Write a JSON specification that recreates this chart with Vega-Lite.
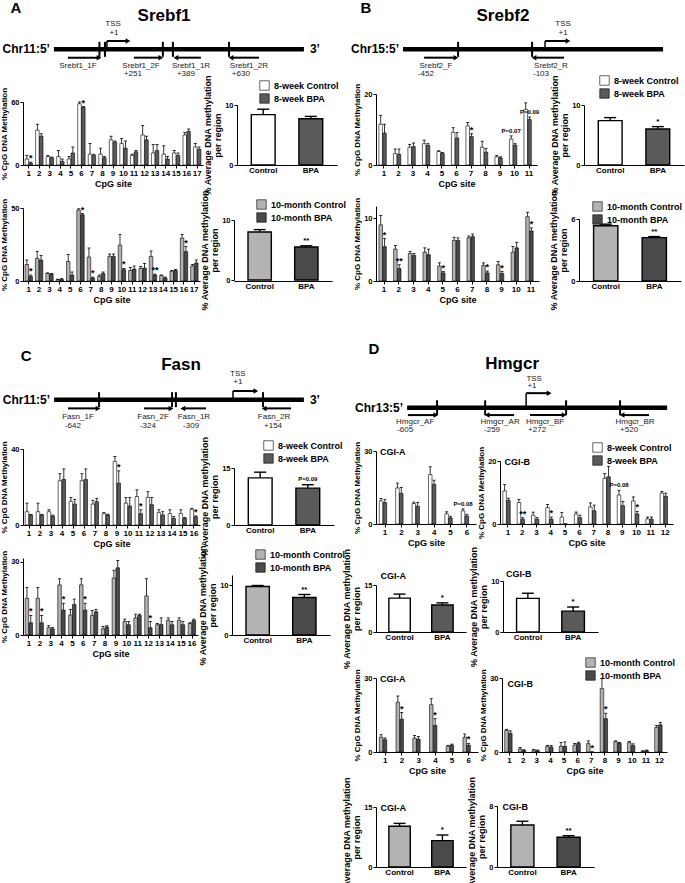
{
"$schema": "https://vega.github.io/schema/vega-lite/v6.json",
"background": "white",
"padding": 0,
"config": {
 "view": {"stroke": null},
 "font": "Liberation Sans",
 "mark": {"color": "#000"},
 "axis": {"labelFont": "Liberation Sans", "labelFontWeight": "bold", "labelFontSize": 7.5, "labelColor": "#000", "titleFont": "Liberation Sans", "titleFontWeight": "bold", "titleFontSize": 8, "titleColor": "#000", "titleLineHeight": 10, "domainColor": "#000", "tickColor": "#000", "grid": false, "tickSize": 3, "labelPadding": 1, "titlePadding": 2, "labelFlush": false, "labelOverlap": false},
 "axisX": {"labelAngle": 0, "labelFontSize": 8},
 "legend": {"labelFont": "Liberation Sans", "labelFontWeight": "bold", "labelFontSize": 9, "labelColor": "#000", "symbolType": "square", "symbolSize": 90, "symbolStrokeColor": "#000", "symbolStrokeWidth": 1.2, "rowPadding": 0, "labelOffset": 4, "symbolOpacity": 1},
 "bar": {"stroke": "#000", "strokeWidth": 0.6},
 "rule": {"color": "#000", "strokeWidth": 0.8},
 "tick": {"color": "#000", "fill": "#000", "thickness": 0.8, "opacity": 1},
 "text": {"font": "Liberation Sans", "fontWeight": "bold", "fontSize": 9, "color": "#000", "fill": "#000"},
 "title": {"font": "Liberation Sans", "fontWeight": "bold", "fontSize": 9, "color": "#000"}
},
"datasets": {
 "gA": [
  {"k":"line","x":-259,"x2":1010,"lane":"line"},
  {"k":"tick","x":-28,"lane":"line"},{"k":"tick","x":0,"lane":"line"},{"k":"tick","x":294,"lane":"line"},{"k":"tick","x":345,"lane":"line"},{"k":"tick","x":630,"lane":"line"},
  {"k":"arr","x":-188,"x2":-30,"tip":-30,"dir":"R","lane":"primer"},
  {"k":"arr","x":147,"x2":284,"tip":284,"dir":"R","lane":"primer"},
  {"k":"arr","x":360,"x2":487,"tip":360,"dir":"L","lane":"primer"},
  {"k":"arr","x":640,"x2":782,"tip":640,"dir":"L","lane":"primer"},
  {"k":"arr","x":10,"x2":117,"tip":117,"dir":"R","lane":"arrow"},
  {"k":"tssv","x":10,"lane":"line","lane2":"arrow"},
  {"k":"letter","x":-452,"lane":"letter","t":"A"},
  {"k":"gene","x":300,"lane":"gene","t":"Srebf1"},
  {"k":"chr","x":-259,"lane":"line","t":"Chr11:5’"},
  {"k":"three","x":1010,"lane":"line","t":"3’"},
  {"k":"s","x":41,"lane":"tss","t":"TSS"},{"k":"s","x":46,"lane":"plus","t":"+1"},
  {"k":"s","x":-137,"lane":"name","t":"Srebf1_1F"},
  {"k":"s","x":183,"lane":"name","t":"Srebf1_2F"},{"k":"s","x":142,"lane":"coord","t":"+251"},
  {"k":"s","x":437,"lane":"name","t":"Srebf1_1R"},{"k":"s","x":411,"lane":"coord","t":"+389"},
  {"k":"s","x":731,"lane":"name","t":"Srebf1_2R"},{"k":"s","x":690,"lane":"coord","t":"+630"}
 ],
 "gB": [
  {"k":"line","x":-526,"x2":437,"lane":"line"},
  {"k":"tick","x":-322,"lane":"line"},{"k":"tick","x":-48,"lane":"line"},
  {"k":"arr","x":-448,"x2":-330,"tip":-330,"dir":"R","lane":"primer"},
  {"k":"arr","x":-41,"x2":70,"tip":-41,"dir":"L","lane":"primer"},
  {"k":"arr","x":0,"x2":85,"tip":85,"dir":"R","lane":"arrow"},
  {"k":"tssv","x":0,"lane":"line","lane2":"arrow"},
  {"k":"letter","x":-663,"lane":"letter","t":"B"},
  {"k":"gene","x":-156,"lane":"gene","t":"Srebf2"},
  {"k":"chr","x":-526,"lane":"line","t":"Chr15:5’"},
  {"k":"s","x":67,"lane":"tss","t":"TSS"},{"k":"s","x":67,"lane":"plus","t":"+1"},
  {"k":"s","x":-404,"lane":"name","t":"Srebf2_F"},{"k":"s","x":-441,"lane":"coord","t":"-452"},
  {"k":"s","x":22,"lane":"name","t":"Srebf2_R"},{"k":"s","x":-15,"lane":"coord","t":"-103"}
 ],
 "gC": [
  {"k":"line","x":-696,"x2":276,"lane":"line"},
  {"k":"tick","x":-521,"lane":"line"},{"k":"tick","x":-237,"lane":"line"},{"k":"tick","x":-222,"lane":"line"},{"k":"tick","x":117,"lane":"line"},
  {"k":"arr","x":-642,"x2":-525,"tip":-525,"dir":"R","lane":"primer"},
  {"k":"arr","x":-346,"x2":-241,"tip":-241,"dir":"R","lane":"primer"},
  {"k":"arr","x":-195,"x2":-105,"tip":-195,"dir":"L","lane":"primer"},
  {"k":"arr","x":121,"x2":226,"tip":121,"dir":"L","lane":"primer"},
  {"k":"arr","x":0,"x2":89,"tip":89,"dir":"R","lane":"arrow"},
  {"k":"tssv","x":0,"lane":"line","lane2":"arrow"},
  {"k":"letter","x":-805,"lane":"letter","t":"C"},
  {"k":"gene","x":-202,"lane":"gene","t":"Fasn"},
  {"k":"chr","x":-696,"lane":"line","t":"Chr11:5’"},
  {"k":"three","x":276,"lane":"line","t":"3’"},
  {"k":"s","x":19,"lane":"tss","t":"TSS"},{"k":"s","x":19,"lane":"plus","t":"+1"},
  {"k":"s","x":-603,"lane":"name","t":"Fasn_1F"},{"k":"s","x":-623,"lane":"coord","t":"-642"},
  {"k":"s","x":-311,"lane":"name","t":"Fasn_2F"},{"k":"s","x":-331,"lane":"coord","t":"-324"},
  {"k":"s","x":-152,"lane":"name","t":"Fasn_1R"},{"k":"s","x":-163,"lane":"coord","t":"-309"},
  {"k":"s","x":160,"lane":"name","t":"Fasn_2R"},{"k":"s","x":156,"lane":"coord","t":"+154"}
 ],
 "gD": [
  {"k":"line","x":-604,"x2":716,"lane":"line"},
  {"k":"tick","x":-452,"lane":"line"},{"k":"tick","x":-208,"lane":"line"},{"k":"tick","x":203,"lane":"line"},{"k":"tick","x":477,"lane":"line"},
  {"k":"arr","x":-600,"x2":-458,"tip":-458,"dir":"R","lane":"primer"},
  {"k":"arr","x":-198,"x2":-61,"tip":-198,"dir":"L","lane":"primer"},
  {"k":"arr","x":20,"x2":193,"tip":193,"dir":"R","lane":"primer"},
  {"k":"arr","x":487,"x2":624,"tip":487,"dir":"L","lane":"primer"},
  {"k":"arr","x":0,"x2":117,"tip":117,"dir":"R","lane":"arrow"},
  {"k":"tssv","x":0,"lane":"line","lane2":"arrow"},
  {"k":"letter","x":-772,"lane":"letter","t":"D"},
  {"k":"gene","x":-71,"lane":"gene","t":"Hmgcr"},
  {"k":"chr","x":-604,"lane":"line","t":"Chr13:5’"},
  {"k":"s","x":41,"lane":"tss","t":"TSS"},{"k":"s","x":30,"lane":"plus","t":"+1"},
  {"k":"s","x":-563,"lane":"name","t":"Hmgcr_AF"},{"k":"s","x":-614,"lane":"coord","t":"-605"},
  {"k":"s","x":-132,"lane":"name","t":"Hmgcr_AR"},{"k":"s","x":-173,"lane":"coord","t":"-259"},
  {"k":"s","x":96,"lane":"name","t":"Hmgcr_BF"},{"k":"s","x":56,"lane":"coord","t":"+272"},
  {"k":"s","x":553,"lane":"name","t":"Hmgcr_BR"},{"k":"s","x":523,"lane":"coord","t":"+520"}
 ],
 "s1w": [{"site":1,"g":"Control","v":2.5,"top":4},{"site":1,"g":"BPA","v":0.8,"top":1.2,"sig":"*"},
  {"site":2,"g":"Control","v":14.5,"top":17},{"site":2,"g":"BPA","v":12,"top":13},
  {"site":3,"g":"Control","v":3.5,"top":4},{"site":3,"g":"BPA","v":3,"top":3.3},
  {"site":4,"g":"Control","v":3.5,"top":6},{"site":4,"g":"BPA","v":1.5,"top":2.5},
  {"site":5,"g":"Control","v":2.5,"top":3.5},{"site":5,"g":"BPA","v":5,"top":7.5},
  {"site":6,"g":"Control","v":55,"top":60},{"site":6,"g":"BPA","v":45,"top":47,"sig":"*"},
  {"site":7,"g":"Control","v":4.5,"top":9},{"site":7,"g":"BPA","v":4,"top":4.5},
  {"site":8,"g":"Control","v":4.5,"top":7},{"site":8,"g":"BPA","v":3,"top":3.5},
  {"site":9,"g":"Control","v":10.5,"top":12},{"site":9,"g":"BPA","v":9.5,"top":10},
  {"site":10,"g":"Control","v":9,"top":11},{"site":10,"g":"BPA","v":7,"top":10},
  {"site":11,"g":"Control","v":4,"top":4.5},{"site":11,"g":"BPA","v":5.5,"top":6},
  {"site":12,"g":"Control","v":12.5,"top":16.5},{"site":12,"g":"BPA","v":10.5,"top":12},
  {"site":13,"g":"Control","v":5,"top":8.5},{"site":13,"g":"BPA","v":6,"top":8.5},
  {"site":14,"g":"Control","v":4.5,"top":8},{"site":14,"g":"BPA","v":2.5,"top":3.5},
  {"site":15,"g":"Control","v":5,"top":6},{"site":15,"g":"BPA","v":4,"top":5},
  {"site":16,"g":"Control","v":12.5,"top":13.5},{"site":16,"g":"BPA","v":14,"top":15},
  {"site":17,"g":"Control","v":7.5,"top":9},{"site":17,"g":"BPA","v":6.5,"top":7.5}],
 "s1m": [{"site":1,"g":"Control","v":5.5,"top":7},{"site":1,"g":"BPA","v":1.5,"top":2,"sig":"*"},
  {"site":2,"g":"Control","v":7.5,"top":9.8},{"site":2,"g":"BPA","v":7,"top":8.5},
  {"site":3,"g":"Control","v":2.5,"top":2.7},{"site":3,"g":"BPA","v":2.3,"top":2.5},
  {"site":4,"g":"Control","v":0.5,"top":0.6},{"site":4,"g":"BPA","v":0.5,"top":0.8},
  {"site":5,"g":"Control","v":6.5,"top":8.8},{"site":5,"g":"BPA","v":2,"top":3},
  {"site":6,"g":"Control","v":45,"top":48},{"site":6,"g":"BPA","v":33,"top":36,"sig":"*"},
  {"site":7,"g":"Control","v":8,"top":11},{"site":7,"g":"BPA","v":1,"top":1.3,"sig":"*"},
  {"site":8,"g":"Control","v":1.5,"top":2},{"site":8,"g":"BPA","v":2.5,"top":3},
  {"site":9,"g":"Control","v":8.2,"top":9},{"site":9,"g":"BPA","v":8.2,"top":9},
  {"site":10,"g":"Control","v":12,"top":15.5},{"site":10,"g":"BPA","v":3.8,"top":4.2,"sig":"*"},
  {"site":11,"g":"Control","v":3.5,"top":4.5},{"site":11,"g":"BPA","v":4,"top":5},
  {"site":12,"g":"Control","v":4.2,"top":4.8},{"site":12,"g":"BPA","v":4.3,"top":5.8},
  {"site":13,"g":"Control","v":8.2,"top":10},{"site":13,"g":"BPA","v":2,"top":2.3,"sig":"**"},
  {"site":14,"g":"Control","v":1.8,"top":2},{"site":14,"g":"BPA","v":1,"top":1.3},
  {"site":15,"g":"Control","v":3.3,"top":3.5},{"site":15,"g":"BPA","v":3.5,"top":3.8},
  {"site":16,"g":"Control","v":14.3,"top":15.5},{"site":16,"g":"BPA","v":9.8,"top":11.5,"sig":"*"},
  {"site":17,"g":"Control","v":5,"top":5.5},{"site":17,"g":"BPA","v":6,"top":7}],
 "s1wa": [{"g":"Control","v":8.4,"top":9.3},{"g":"BPA","v":7.7,"top":8.1}],
 "s1ma": [{"g":"Control","v":8,"top":8.4},{"g":"BPA","v":5.5,"top":5.7,"sig":"**"}],
 "s2w": [{"site":1,"g":"Control","v":11.5,"top":14},{"site":1,"g":"BPA","v":9,"top":11.5},
  {"site":2,"g":"Control","v":3.2,"top":4.5},{"site":2,"g":"BPA","v":3,"top":4.5},
  {"site":3,"g":"Control","v":5,"top":5.8},{"site":3,"g":"BPA","v":5.2,"top":6.2},
  {"site":4,"g":"Control","v":6,"top":7},{"site":4,"g":"BPA","v":5.5,"top":6},
  {"site":5,"g":"Control","v":3.8,"top":4},{"site":5,"g":"BPA","v":3.2,"top":3.5},
  {"site":6,"g":"Control","v":9.2,"top":10.5},{"site":6,"g":"BPA","v":7.6,"top":9.2},
  {"site":7,"g":"Control","v":11,"top":12},{"site":7,"g":"BPA","v":8,"top":8.8,"sig":"*"},
  {"site":8,"g":"Control","v":5,"top":6.7},{"site":8,"g":"BPA","v":3.6,"top":4.7},
  {"site":9,"g":"Control","v":2.3,"top":2.7},{"site":9,"g":"BPA","v":2,"top":2.3},
  {"site":10,"g":"Control","v":7.3,"top":8.2,"lab":"P=0.07"},{"site":10,"g":"BPA","v":5.6,"top":6},
  {"site":11,"g":"Control","v":15.7,"top":17.5},{"site":11,"g":"BPA","v":12.8,"top":13.5,"lab":"P=0.09"}],
 "s2m": [{"site":1,"g":"Control","v":9,"top":10.5},{"site":1,"g":"BPA","v":5.5,"top":6.8,"sig":"*"},
  {"site":2,"g":"Control","v":5.1,"top":5.7},{"site":2,"g":"BPA","v":2,"top":2.6,"sig":"**"},
  {"site":3,"g":"Control","v":4.4,"top":4.7},{"site":3,"g":"BPA","v":4.1,"top":4.4},
  {"site":4,"g":"Control","v":4.6,"top":5.3},{"site":4,"g":"BPA","v":4.2,"top":5.1},
  {"site":5,"g":"Control","v":2.4,"top":2.9},{"site":5,"g":"BPA","v":1.3,"top":1.5,"sig":"*"},
  {"site":6,"g":"Control","v":6.5,"top":7},{"site":6,"g":"BPA","v":6.5,"top":6.9},
  {"site":7,"g":"Control","v":6.9,"top":7.2},{"site":7,"g":"BPA","v":7.1,"top":7.5},
  {"site":8,"g":"Control","v":2.5,"top":2.9},{"site":8,"g":"BPA","v":1.3,"top":1.6,"sig":"*"},
  {"site":9,"g":"Control","v":2.6,"top":3.1},{"site":9,"g":"BPA","v":1.2,"top":1.5,"sig":"*"},
  {"site":10,"g":"Control","v":4.6,"top":5.5},{"site":10,"g":"BPA","v":5.3,"top":6.2},
  {"site":11,"g":"Control","v":10.3,"top":11},{"site":11,"g":"BPA","v":8,"top":8.5,"sig":"*"}],
 "s2wa": [{"g":"Control","v":7.4,"top":7.9},{"g":"BPA","v":6,"top":6.4,"sig":"*"}],
 "s2ma": [{"g":"Control","v":5.35,"top":5.5},{"g":"BPA","v":4.2,"top":4.3,"sig":"**"}],
 "fw": [{"site":1,"g":"Control","v":7,"top":11.5},{"site":1,"g":"BPA","v":5.3,"top":5.6},
  {"site":2,"g":"Control","v":7,"top":11.5},{"site":2,"g":"BPA","v":5.3,"top":5.6},
  {"site":3,"g":"Control","v":7,"top":8},{"site":3,"g":"BPA","v":4.7,"top":5.2},
  {"site":4,"g":"Control","v":23.3,"top":27},{"site":4,"g":"BPA","v":24,"top":29.5},
  {"site":5,"g":"Control","v":12.5,"top":14.5},{"site":5,"g":"BPA","v":11,"top":13.5},
  {"site":6,"g":"Control","v":23.3,"top":27},{"site":6,"g":"BPA","v":24,"top":29.5},
  {"site":7,"g":"Control","v":11,"top":13},{"site":7,"g":"BPA","v":12.3,"top":14},
  {"site":8,"g":"Control","v":6,"top":6.5},{"site":8,"g":"BPA","v":5.3,"top":5.7},
  {"site":9,"g":"Control","v":33.5,"top":36},{"site":9,"g":"BPA","v":22,"top":28.5,"sig":"*"},
  {"site":10,"g":"Control","v":11.5,"top":14.5},{"site":10,"g":"BPA","v":10,"top":14.5},
  {"site":11,"g":"Control","v":15,"top":18.5},{"site":11,"g":"BPA","v":6,"top":8,"sig":"*"},
  {"site":12,"g":"Control","v":14.5,"top":17.5},{"site":12,"g":"BPA","v":10.7,"top":14.5},
  {"site":13,"g":"Control","v":6.5,"top":8},{"site":13,"g":"BPA","v":5.3,"top":7},
  {"site":14,"g":"Control","v":6,"top":8},{"site":14,"g":"BPA","v":3.5,"top":4.5},
  {"site":15,"g":"Control","v":6,"top":8},{"site":15,"g":"BPA","v":3.5,"top":4},
  {"site":16,"g":"Control","v":8.3,"top":8.8},{"site":16,"g":"BPA","v":4.3,"top":4.8,"sig":"*"}],
 "fm": [{"site":1,"g":"Control","v":15,"top":19.5},{"site":1,"g":"BPA","v":5,"top":8,"sig":"*"},
  {"site":2,"g":"Control","v":15,"top":19.5},{"site":2,"g":"BPA","v":5,"top":8,"sig":"*"},
  {"site":3,"g":"Control","v":3,"top":3.8},{"site":3,"g":"BPA","v":2.5,"top":3},
  {"site":4,"g":"Control","v":20.5,"top":23},{"site":4,"g":"BPA","v":10.2,"top":13,"sig":"*"},
  {"site":5,"g":"Control","v":8.2,"top":10.5},{"site":5,"g":"BPA","v":12.5,"top":14.7},
  {"site":6,"g":"Control","v":20.5,"top":23},{"site":6,"g":"BPA","v":10.2,"top":13,"sig":"*"},
  {"site":7,"g":"Control","v":8,"top":10},{"site":7,"g":"BPA","v":9.5,"top":10.5},
  {"site":8,"g":"Control","v":2.5,"top":3.5},{"site":8,"g":"BPA","v":3.3,"top":3.8},
  {"site":9,"g":"Control","v":23.3,"top":26.5},{"site":9,"g":"BPA","v":27.5,"top":30.5},
  {"site":10,"g":"Control","v":5.5,"top":6.5},{"site":10,"g":"BPA","v":4.2,"top":5.5},
  {"site":11,"g":"Control","v":7,"top":8.5},{"site":11,"g":"BPA","v":8,"top":8.5},
  {"site":12,"g":"Control","v":16,"top":23},{"site":12,"g":"BPA","v":3,"top":5.5,"sig":"*"},
  {"site":13,"g":"Control","v":4.2,"top":4.7},{"site":13,"g":"BPA","v":4.3,"top":7},
  {"site":14,"g":"Control","v":6,"top":7},{"site":14,"g":"BPA","v":4.2,"top":5.5},
  {"site":15,"g":"Control","v":6,"top":7},{"site":15,"g":"BPA","v":4.2,"top":5.5},
  {"site":16,"g":"Control","v":4.7,"top":5},{"site":16,"g":"BPA","v":6,"top":6.5}],
 "fwa": [{"g":"Control","v":12.4,"top":13.9},{"g":"BPA","v":9.7,"top":10.6,"lab":"P=0.09"}],
 "fma": [{"g":"Control","v":9.7,"top":9.9},{"g":"BPA","v":7.5,"top":8.1,"sig":"**"}],
 "hAw": [{"site":1,"g":"Control","v":9.5,"top":10.5},{"site":1,"g":"BPA","v":8.8,"top":10},
  {"site":2,"g":"Control","v":14.8,"top":16.8},{"site":2,"g":"BPA","v":12.6,"top":15},
  {"site":3,"g":"Control","v":8.4,"top":9},{"site":3,"g":"BPA","v":7.3,"top":8.8},
  {"site":4,"g":"Control","v":20.3,"top":23.5},{"site":4,"g":"BPA","v":16.3,"top":18},
  {"site":5,"g":"Control","v":4.2,"top":5},{"site":5,"g":"BPA","v":2.5,"top":3.2},
  {"site":6,"g":"Control","v":5.4,"top":6.2,"lab":"P=0.08"},{"site":6,"g":"BPA","v":3.3,"top":4}],
 "hBw": [{"site":1,"g":"Control","v":10.5,"top":12.5},{"site":1,"g":"BPA","v":7.5,"top":8.2},
  {"site":2,"g":"Control","v":6.8,"top":7.8},{"site":2,"g":"BPA","v":1.5,"top":2,"sig":"**"},
  {"site":3,"g":"Control","v":2.8,"top":3.8},{"site":3,"g":"BPA","v":1.5,"top":2},
  {"site":4,"g":"Control","v":5.2,"top":6.2},{"site":4,"g":"BPA","v":1.5,"top":2.2,"sig":"*"},
  {"site":5,"g":"Control","v":2.2,"top":3.7},{"site":5,"g":"BPA","v":0,"top":0},
  {"site":6,"g":"Control","v":3.2,"top":3.8},{"site":6,"g":"BPA","v":2,"top":2.8},
  {"site":7,"g":"Control","v":5.4,"top":6.7},{"site":7,"g":"BPA","v":4.2,"top":6},
  {"site":8,"g":"Control","v":14.5,"top":16},{"site":8,"g":"BPA","v":15,"top":18.3},
  {"site":9,"g":"Control","v":9.2,"top":10.7,"lab":"P=0.08"},{"site":9,"g":"BPA","v":5.8,"top":7.2},
  {"site":10,"g":"Control","v":7.3,"top":8.6},{"site":10,"g":"BPA","v":3.2,"top":4,"sig":"*"},
  {"site":11,"g":"Control","v":1.6,"top":2.2},{"site":11,"g":"BPA","v":1.5,"top":2.2},
  {"site":12,"g":"Control","v":9.8,"top":10.3},{"site":12,"g":"BPA","v":8.8,"top":9.8}],
 "hAwa": [{"g":"Control","v":10.8,"top":12.1},{"g":"BPA","v":8.6,"top":9.3,"sig":"*"}],
 "hBwa": [{"g":"Control","v":6.6,"top":7.6},{"g":"BPA","v":4.1,"top":4.9,"sig":"*"}],
 "hAm": [{"site":1,"g":"Control","v":6,"top":7},{"site":1,"g":"BPA","v":5,"top":5.7},
  {"site":2,"g":"Control","v":20.2,"top":22.7},{"site":2,"g":"BPA","v":13.3,"top":16,"sig":"*"},
  {"site":3,"g":"Control","v":5.6,"top":6.7},{"site":3,"g":"BPA","v":5.2,"top":6.3},
  {"site":4,"g":"Control","v":19.2,"top":21.6},{"site":4,"g":"BPA","v":10.8,"top":13.5,"sig":"*"},
  {"site":5,"g":"Control","v":2.4,"top":2.7},{"site":5,"g":"BPA","v":2.8,"top":3.2},
  {"site":6,"g":"Control","v":6,"top":7.3},{"site":6,"g":"BPA","v":2.8,"top":3.5,"sig":"*"}],
 "hBm": [{"site":1,"g":"Control","v":8.8,"top":9.2},{"site":1,"g":"BPA","v":7.6,"top":8.6},
  {"site":2,"g":"Control","v":1.2,"top":1.8},{"site":2,"g":"BPA","v":0.6,"top":0.9},
  {"site":3,"g":"Control","v":0.8,"top":1},{"site":3,"g":"BPA","v":0.5,"top":0.8},
  {"site":4,"g":"Control","v":2.2,"top":2.7},{"site":4,"g":"BPA","v":2,"top":2.6},
  {"site":5,"g":"Control","v":2.3,"top":3.8},{"site":5,"g":"BPA","v":2.3,"top":4.1},
  {"site":6,"g":"Control","v":2.8,"top":3.5},{"site":6,"g":"BPA","v":3.5,"top":4},
  {"site":7,"g":"Control","v":3.4,"top":4.5},{"site":7,"g":"BPA","v":0,"top":0,"sig":"*"},
  {"site":8,"g":"Control","v":25.7,"top":29.8},{"site":8,"g":"BPA","v":13.5,"top":15.7,"sig":"*"},
  {"site":9,"g":"Control","v":4.2,"top":4.5},{"site":9,"g":"BPA","v":3.6,"top":3.9},
  {"site":10,"g":"Control","v":3.8,"top":4.3},{"site":10,"g":"BPA","v":2.6,"top":3.3},
  {"site":11,"g":"Control","v":0.3,"top":0.5},{"site":11,"g":"BPA","v":0.5,"top":0.8},
  {"site":12,"g":"Control","v":10,"top":10.8},{"site":12,"g":"BPA","v":11,"top":12}],
 "hAma": [{"g":"Control","v":10.2,"top":10.9},{"g":"BPA","v":6.6,"top":8,"sig":"*"}],
 "hBma": [{"g":"Control","v":5.5,"top":6},{"g":"BPA","v":3.9,"top":4.1,"sig":"**"}]
},
"resolve": {"scale": {"fill": "independent", "shape": "independent"}, "legend": {"fill": "independent", "shape": "independent"}},
"spacing": -21,
"hconcat": [
 {
  "resolve": {"scale": {"fill": "independent", "shape": "independent"}, "legend": {"fill": "independent", "shape": "independent"}},
  "spacing": 38,
  "vconcat": [
   {
    "resolve": {"scale": {"fill": "independent", "shape": "independent"}, "legend": {"fill": "independent", "shape": "independent"}},
    "spacing": -7,
    "vconcat": [
     {
      "width": 340, "height": 80,
      "data": {"name": "gA"},
      "encoding": {
       "x": {"field": "x", "type": "quantitative", "scale": {"domain": [-416, 1310], "nice": false, "zero": false}, "axis": null},
       "y": {"field": "lane", "type": "ordinal", "scale": {"type": "point", "domain": ["letter","gene","tss","plus","arrow","line","primer","name","coord"], "padding": 0.8}, "axis": null}
      },
      "layer": [
       {"transform": [{"filter": "datum.k==='line'"}], "mark": {"type": "rule", "strokeWidth": 4.5, "color": "#000"}, "encoding": {"x2": {"field": "x2"}}},
       {"transform": [{"filter": "datum.k==='tick'"}], "mark": {"type": "tick", "orient": "vertical", "thickness": 2, "size": 15, "color": "#000"}},
       {"transform": [{"filter": "datum.k==='arr'"}], "mark": {"type": "rule", "strokeWidth": 2, "color": "#000"}, "encoding": {"x2": {"field": "x2"}}},
       {"transform": [{"filter": "datum.k==='arr'"}], "mark": {"type": "point", "filled": true, "size": 30, "color": "#000", "opacity": 1}, "encoding": {"x": {"field": "tip", "type": "quantitative"}, "shape": {"field": "dir", "type": "nominal", "scale": {"domain": ["R","L"], "range": ["triangle-right","triangle-left"]}, "legend": null}}},
       {"transform": [{"filter": "datum.k==='tssv'"}], "mark": {"type": "rule", "strokeWidth": 1.5, "color": "#000"}, "encoding": {"y2": {"field": "lane2"}}},
       {"transform": [{"filter": "datum.k==='letter'"}], "mark": {"type": "text", "fontSize": 15, "fontWeight": "bold"}, "encoding": {"text": {"field": "t"}}},
       {"transform": [{"filter": "datum.k==='gene'"}], "mark": {"type": "text", "fontSize": 17, "fontWeight": "bold"}, "encoding": {"text": {"field": "t"}}},
       {"transform": [{"filter": "datum.k==='chr'"}], "mark": {"type": "text", "fontSize": 12, "fontWeight": "bold", "align": "right", "dx": -4, "font": "Liberation Sans Narrow, Liberation Sans, sans-serif"}, "encoding": {"text": {"field": "t"}}},
       {"transform": [{"filter": "datum.k==='three'"}], "mark": {"type": "text", "fontSize": 12, "fontWeight": "bold", "align": "left", "dx": 6, "font": "Liberation Sans Narrow, Liberation Sans, sans-serif"}, "encoding": {"text": {"field": "t"}}},
       {"transform": [{"filter": "datum.k==='s'"}], "mark": {"type": "text", "fontSize": 8, "fontWeight": "normal", "color": "#222", "fill": "#222", "font": "Liberation Sans Narrow, Liberation Sans, sans-serif"}, "encoding": {"text": {"field": "t"}}}
      ]
     },
     {
      "resolve": {"scale": {"fill": "independent"}, "legend": {"fill": "independent"}},
      "spacing": 0,
      "hconcat": [
       {
        "width": 180, "height": 63,
        "data": {"name": "s1w"},
        "encoding": {
         "x": {"field": "site", "type": "ordinal", "scale": {"paddingInner": 0.3, "paddingOuter": 0.2}, "axis": {"title": "CpG site", "titleFontSize": 9}},
         "xOffset": {"field": "g", "type": "nominal", "sort": ["Control","BPA"], "scale": {"paddingInner": 0.08}}
        },
        "layer": [
         {"mark": "bar", "encoding": {"y": {"field": "v", "type": "quantitative", "scale": {"domain": [0,20,40,60], "range": [63,15,7,0], "nice": false, "zero": false}, "axis": {"values": [0,5,10,15,20,40,60], "title": "% CpG DNA Methylation"}}, "fill": {"field": "g", "type": "nominal", "scale": {"domain": ["Control","BPA"], "range": ["#ffffff","#5a5a5a"]}, "legend": null}}},
         {"mark": "rule", "encoding": {"y": {"field": "v", "type": "quantitative"}, "y2": {"field": "top"}}},
         {"mark": {"type": "tick", "orient": "horizontal"}, "encoding": {"y": {"field": "top", "type": "quantitative"}, "size": {"value": 3}}},
         {"transform": [{"filter": "datum.sig"}], "mark": {"type": "text", "dy": -4}, "encoding": {"y": {"field": "top", "type": "quantitative"}, "text": {"field": "sig"}}}
        ]
       },
       {
        "width": 100, "height": 63,
        "data": {"name": "s1wa"},
        "encoding": {"x": {"field": "g", "type": "nominal", "sort": ["Control","BPA"], "scale": {"paddingInner": 0.5, "paddingOuter": 0.3}, "axis": {"title": null, "ticks": false}}},
        "layer": [
         {"mark": {"type": "bar", "strokeWidth": 1.4}, "encoding": {"y": {"field": "v", "type": "quantitative", "scale": {"domain": [0,10], "range": [63,3], "nice": false}, "axis": {"values": [0,2,4,6,8,10], "title": ["% Average DNA methylation","per region"], "titleFontSize": 9}}, "fill": {"field": "g", "type": "nominal", "scale": {"domain": ["Control","BPA"], "range": ["#ffffff","#5a5a5a"]}, "legend": {"title": null, "orient": "none", "legendX": 22, "legendY": -22, "labelExpr": "'8-week ' + datum.label"}}}},
         {"mark": {"type": "rule", "strokeWidth": 1.4}, "encoding": {"y": {"field": "v", "type": "quantitative"}, "y2": {"field": "top"}}},
         {"mark": {"type": "tick", "orient": "horizontal", "thickness": 1.4}, "encoding": {"y": {"field": "top", "type": "quantitative"}, "size": {"value": 12}}},
         {"transform": [{"filter": "datum.sig"}], "mark": {"type": "text", "dy": -5, "fontSize": 8}, "encoding": {"y": {"field": "top", "type": "quantitative"}, "text": {"field": "sig"}}}
        ]
       }
      ]
     },
     {
      "resolve": {"scale": {"fill": "independent"}, "legend": {"fill": "independent"}},
      "spacing": 0,
      "hconcat": [
       {
        "width": 177, "height": 73,
        "data": {"name": "s1m"},
        "encoding": {
         "x": {"field": "site", "type": "ordinal", "scale": {"paddingInner": 0.3, "paddingOuter": 0.2}, "axis": {"title": "CpG site", "titleFontSize": 9}},
         "xOffset": {"field": "g", "type": "nominal", "sort": ["Control","BPA"], "scale": {"paddingInner": 0.08}}
        },
        "layer": [
         {"mark": "bar", "encoding": {"y": {"field": "v", "type": "quantitative", "scale": {"domain": [0,18,25,50], "range": [73,19,10,0], "nice": false, "zero": false}, "axis": {"values": [0,5,10,15,25,50], "title": "% CpG DNA Methylation"}}, "fill": {"field": "g", "type": "nominal", "scale": {"domain": ["Control","BPA"], "range": ["#b3b3b3","#4a4a4a"]}, "legend": null}}},
         {"mark": "rule", "encoding": {"y": {"field": "v", "type": "quantitative"}, "y2": {"field": "top"}}},
         {"mark": {"type": "tick", "orient": "horizontal"}, "encoding": {"y": {"field": "top", "type": "quantitative"}, "size": {"value": 3}}},
         {"transform": [{"filter": "datum.sig"}], "mark": {"type": "text", "dy": -4}, "encoding": {"y": {"field": "top", "type": "quantitative"}, "text": {"field": "sig"}}}
        ]
       },
       {
        "width": 98, "height": 73,
        "data": {"name": "s1ma"},
        "encoding": {"x": {"field": "g", "type": "nominal", "sort": ["Control","BPA"], "scale": {"paddingInner": 0.5, "paddingOuter": 0.3}, "axis": {"title": null, "ticks": false}}},
        "layer": [
         {"mark": {"type": "bar", "strokeWidth": 1.4}, "encoding": {"y": {"field": "v", "type": "quantitative", "scale": {"domain": [0,10], "range": [72,12], "nice": false}, "axis": {"values": [0,2,4,6,8,10], "title": ["% Average DNA methylation","per region"], "titleFontSize": 9}}, "fill": {"field": "g", "type": "nominal", "scale": {"domain": ["Control","BPA"], "range": ["#b3b3b3","#4a4a4a"]}, "legend": {"title": null, "orient": "none", "legendX": 22, "legendY": -9, "labelExpr": "'10-month ' + datum.label"}}}},
         {"mark": {"type": "rule", "strokeWidth": 1.4}, "encoding": {"y": {"field": "v", "type": "quantitative"}, "y2": {"field": "top"}}},
         {"mark": {"type": "tick", "orient": "horizontal", "thickness": 1.4}, "encoding": {"y": {"field": "top", "type": "quantitative"}, "size": {"value": 12}}},
         {"transform": [{"filter": "datum.sig"}], "mark": {"type": "text", "dy": -5, "fontSize": 8}, "encoding": {"y": {"field": "top", "type": "quantitative"}, "text": {"field": "sig"}}}
        ]
       }
      ]
     }
    ]
   },
   {
    "resolve": {"scale": {"fill": "independent", "shape": "independent"}, "legend": {"fill": "independent", "shape": "independent"}},
    "spacing": 5,
    "vconcat": [
     {
      "width": 340, "height": 80,
      "data": {"name": "gC"},
      "encoding": {
       "x": {"field": "x", "type": "quantitative", "scale": {"domain": [-817, 506], "nice": false, "zero": false}, "axis": null},
       "y": {"field": "lane", "type": "ordinal", "scale": {"type": "point", "domain": ["letter","gene","tss","plus","arrow","line","primer","name","coord"], "padding": 0.6}, "axis": null}
      },
      "layer": [
       {"transform": [{"filter": "datum.k==='line'"}], "mark": {"type": "rule", "strokeWidth": 4.5, "color": "#000"}, "encoding": {"x2": {"field": "x2"}}},
       {"transform": [{"filter": "datum.k==='tick'"}], "mark": {"type": "tick", "orient": "vertical", "thickness": 2, "size": 15, "color": "#000"}},
       {"transform": [{"filter": "datum.k==='arr'"}], "mark": {"type": "rule", "strokeWidth": 2, "color": "#000"}, "encoding": {"x2": {"field": "x2"}}},
       {"transform": [{"filter": "datum.k==='arr'"}], "mark": {"type": "point", "filled": true, "size": 30, "color": "#000", "opacity": 1}, "encoding": {"x": {"field": "tip", "type": "quantitative"}, "shape": {"field": "dir", "type": "nominal", "scale": {"domain": ["R","L"], "range": ["triangle-right","triangle-left"]}, "legend": null}}},
       {"transform": [{"filter": "datum.k==='tssv'"}], "mark": {"type": "rule", "strokeWidth": 1.5, "color": "#000"}, "encoding": {"y2": {"field": "lane2"}}},
       {"transform": [{"filter": "datum.k==='letter'"}], "mark": {"type": "text", "fontSize": 15, "fontWeight": "bold"}, "encoding": {"text": {"field": "t"}}},
       {"transform": [{"filter": "datum.k==='gene'"}], "mark": {"type": "text", "fontSize": 17, "fontWeight": "bold"}, "encoding": {"text": {"field": "t"}}},
       {"transform": [{"filter": "datum.k==='chr'"}], "mark": {"type": "text", "fontSize": 12, "fontWeight": "bold", "align": "right", "dx": -4, "font": "Liberation Sans Narrow, Liberation Sans, sans-serif"}, "encoding": {"text": {"field": "t"}}},
       {"transform": [{"filter": "datum.k==='three'"}], "mark": {"type": "text", "fontSize": 12, "fontWeight": "bold", "align": "left", "dx": 6, "font": "Liberation Sans Narrow, Liberation Sans, sans-serif"}, "encoding": {"text": {"field": "t"}}},
       {"transform": [{"filter": "datum.k==='s'"}], "mark": {"type": "text", "fontSize": 8, "fontWeight": "normal", "color": "#222", "fill": "#222", "font": "Liberation Sans Narrow, Liberation Sans, sans-serif"}, "encoding": {"text": {"field": "t"}}}
      ]
     },
     {
      "resolve": {"scale": {"fill": "independent"}, "legend": {"fill": "independent"}},
      "spacing": -13,
      "vconcat": [
       {
        "resolve": {"scale": {"fill": "independent"}, "legend": {"fill": "independent"}},
        "spacing": 0,
        "hconcat": [
         {
          "width": 177, "height": 76,
          "data": {"name": "fw"},
          "encoding": {
           "x": {"field": "site", "type": "ordinal", "scale": {"paddingInner": 0.3, "paddingOuter": 0.2}, "axis": {"title": "CpG site", "titleFontSize": 9}},
           "xOffset": {"field": "g", "type": "nominal", "sort": ["Control","BPA"], "scale": {"paddingInner": 0.08}}
          },
          "layer": [
           {"mark": "bar", "encoding": {"y": {"field": "v", "type": "quantitative", "scale": {"domain": [0,40], "nice": false}, "axis": {"values": [0,10,20,30,40], "title": "% CpG DNA Methylation"}}, "fill": {"field": "g", "type": "nominal", "scale": {"domain": ["Control","BPA"], "range": ["#ffffff","#5a5a5a"]}, "legend": null}}},
           {"mark": "rule", "encoding": {"y": {"field": "v", "type": "quantitative"}, "y2": {"field": "top"}}},
           {"mark": {"type": "tick", "orient": "horizontal"}, "encoding": {"y": {"field": "top", "type": "quantitative"}, "size": {"value": 3}}},
           {"transform": [{"filter": "datum.sig"}], "mark": {"type": "text", "dy": -4}, "encoding": {"y": {"field": "top", "type": "quantitative"}, "text": {"field": "sig"}}}
          ]
         },
         {
          "width": 100, "height": 76,
          "data": {"name": "fwa"},
          "encoding": {"x": {"field": "g", "type": "nominal", "sort": ["Control","BPA"], "scale": {"paddingInner": 0.5, "paddingOuter": 0.3}, "axis": {"title": null, "ticks": false}}},
          "layer": [
           {"mark": {"type": "bar", "strokeWidth": 1.4}, "encoding": {"y": {"field": "v", "type": "quantitative", "scale": {"domain": [0,15], "range": [76,19], "nice": false}, "axis": {"values": [0,5,10,15], "title": ["% Average DNA methylation","per region"], "titleFontSize": 9}}, "fill": {"field": "g", "type": "nominal", "scale": {"domain": ["Control","BPA"], "range": ["#ffffff","#5a5a5a"]}, "legend": {"title": null, "orient": "none", "legendX": 29, "legendY": -9, "labelExpr": "'8-week ' + datum.label"}}}},
           {"mark": {"type": "rule", "strokeWidth": 1.4}, "encoding": {"y": {"field": "v", "type": "quantitative"}, "y2": {"field": "top"}}},
           {"mark": {"type": "tick", "orient": "horizontal", "thickness": 1.4}, "encoding": {"y": {"field": "top", "type": "quantitative"}, "size": {"value": 12}}},
           {"transform": [{"filter": "datum.lab"}], "mark": {"type": "text", "dy": -6, "fontSize": 6}, "encoding": {"y": {"field": "top", "type": "quantitative"}, "text": {"field": "lab"}}}
          ]
         }
        ]
       },
       {
        "resolve": {"scale": {"fill": "independent"}, "legend": {"fill": "independent"}},
        "spacing": 0,
        "hconcat": [
         {
          "width": 175, "height": 77,
          "data": {"name": "fm"},
          "encoding": {
           "x": {"field": "site", "type": "ordinal", "scale": {"paddingInner": 0.3, "paddingOuter": 0.2}, "axis": {"title": "CpG site", "titleFontSize": 9}},
           "xOffset": {"field": "g", "type": "nominal", "sort": ["Control","BPA"], "scale": {"paddingInner": 0.08}}
          },
          "layer": [
           {"mark": "bar", "encoding": {"y": {"field": "v", "type": "quantitative", "scale": {"domain": [0,31.5], "nice": false}, "axis": {"values": [0,10,20,30], "title": "% CpG DNA Methylation"}}, "fill": {"field": "g", "type": "nominal", "scale": {"domain": ["Control","BPA"], "range": ["#b3b3b3","#4a4a4a"]}, "legend": null}}},
           {"mark": "rule", "encoding": {"y": {"field": "v", "type": "quantitative"}, "y2": {"field": "top"}}},
           {"mark": {"type": "tick", "orient": "horizontal"}, "encoding": {"y": {"field": "top", "type": "quantitative"}, "size": {"value": 3}}},
           {"transform": [{"filter": "datum.sig"}], "mark": {"type": "text", "dy": -4}, "encoding": {"y": {"field": "top", "type": "quantitative"}, "text": {"field": "sig"}}}
          ]
         },
         {
          "width": 98, "height": 77,
          "data": {"name": "fma"},
          "encoding": {"x": {"field": "g", "type": "nominal", "sort": ["Control","BPA"], "scale": {"paddingInner": 0.5, "paddingOuter": 0.3}, "axis": {"title": null, "ticks": false}}},
          "layer": [
           {"mark": {"type": "bar", "strokeWidth": 1.4}, "encoding": {"y": {"field": "v", "type": "quantitative", "scale": {"domain": [0,12], "range": [77,17], "nice": false}, "axis": {"values": [0,5,10], "title": ["% Average DNA methylation","per region"], "titleFontSize": 9}}, "fill": {"field": "g", "type": "nominal", "scale": {"domain": ["Control","BPA"], "range": ["#b3b3b3","#4a4a4a"]}, "legend": {"title": null, "orient": "none", "legendX": 23, "legendY": -9, "labelExpr": "'10-month ' + datum.label"}}}},
           {"mark": {"type": "rule", "strokeWidth": 1.4}, "encoding": {"y": {"field": "v", "type": "quantitative"}, "y2": {"field": "top"}}},
           {"mark": {"type": "tick", "orient": "horizontal", "thickness": 1.4}, "encoding": {"y": {"field": "top", "type": "quantitative"}, "size": {"value": 12}}},
           {"transform": [{"filter": "datum.sig"}], "mark": {"type": "text", "dy": -5, "fontSize": 8}, "encoding": {"y": {"field": "top", "type": "quantitative"}, "text": {"field": "sig"}}}
          ]
         }
        ]
       }
      ]
     }
    ]
   }
  ]
 },
 {
  "resolve": {"scale": {"fill": "independent", "shape": "independent"}, "legend": {"fill": "independent", "shape": "independent"}},
  "spacing": 31,
  "vconcat": [
   {
    "resolve": {"scale": {"fill": "independent", "shape": "independent"}, "legend": {"fill": "independent", "shape": "independent"}},
    "spacing": -7,
    "vconcat": [
     {
      "width": 340, "height": 80,
      "data": {"name": "gB"},
      "encoding": {
       "x": {"field": "x", "type": "quantitative", "scale": {"domain": [-626, 633], "nice": false, "zero": false}, "axis": null},
       "y": {"field": "lane", "type": "ordinal", "scale": {"type": "point", "domain": ["letter","gene","tss","plus","arrow","line","primer","name","coord"], "padding": 0.8}, "axis": null}
      },
      "layer": [
       {"transform": [{"filter": "datum.k==='line'"}], "mark": {"type": "rule", "strokeWidth": 4.5, "color": "#000"}, "encoding": {"x2": {"field": "x2"}}},
       {"transform": [{"filter": "datum.k==='tick'"}], "mark": {"type": "tick", "orient": "vertical", "thickness": 2, "size": 15, "color": "#000"}},
       {"transform": [{"filter": "datum.k==='arr'"}], "mark": {"type": "rule", "strokeWidth": 2, "color": "#000"}, "encoding": {"x2": {"field": "x2"}}},
       {"transform": [{"filter": "datum.k==='arr'"}], "mark": {"type": "point", "filled": true, "size": 30, "color": "#000", "opacity": 1}, "encoding": {"x": {"field": "tip", "type": "quantitative"}, "shape": {"field": "dir", "type": "nominal", "scale": {"domain": ["R","L"], "range": ["triangle-right","triangle-left"]}, "legend": null}}},
       {"transform": [{"filter": "datum.k==='tssv'"}], "mark": {"type": "rule", "strokeWidth": 1.5, "color": "#000"}, "encoding": {"y2": {"field": "lane2"}}},
       {"transform": [{"filter": "datum.k==='letter'"}], "mark": {"type": "text", "fontSize": 15, "fontWeight": "bold"}, "encoding": {"text": {"field": "t"}}},
       {"transform": [{"filter": "datum.k==='gene'"}], "mark": {"type": "text", "fontSize": 17, "fontWeight": "bold"}, "encoding": {"text": {"field": "t"}}},
       {"transform": [{"filter": "datum.k==='chr'"}], "mark": {"type": "text", "fontSize": 12, "fontWeight": "bold", "align": "right", "dx": -4, "font": "Liberation Sans Narrow, Liberation Sans, sans-serif"}, "encoding": {"text": {"field": "t"}}},
       {"transform": [{"filter": "datum.k==='s'"}], "mark": {"type": "text", "fontSize": 8, "fontWeight": "normal", "color": "#222", "fill": "#222", "font": "Liberation Sans Narrow, Liberation Sans, sans-serif"}, "encoding": {"text": {"field": "t"}}}
      ]
     },
     {
      "resolve": {"scale": {"fill": "independent"}, "legend": {"fill": "independent"}},
      "spacing": 10,
      "hconcat": [
       {
        "width": 161, "height": 71,
        "data": {"name": "s2w"},
        "encoding": {
         "x": {"field": "site", "type": "ordinal", "scale": {"paddingInner": 0.3, "paddingOuter": 0.2}, "axis": {"title": "CpG site", "titleFontSize": 9}},
         "xOffset": {"field": "g", "type": "nominal", "sort": ["Control","BPA"], "scale": {"paddingInner": 0.08}}
        },
        "layer": [
         {"mark": "bar", "encoding": {"y": {"field": "v", "type": "quantitative", "scale": {"domain": [0,20], "nice": false}, "axis": {"values": [0,5,10,15,20], "title": "% CpG DNA Methylation"}}, "fill": {"field": "g", "type": "nominal", "scale": {"domain": ["Control","BPA"], "range": ["#ffffff","#5a5a5a"]}, "legend": null}}},
         {"mark": "rule", "encoding": {"y": {"field": "v", "type": "quantitative"}, "y2": {"field": "top"}}},
         {"mark": {"type": "tick", "orient": "horizontal"}, "encoding": {"y": {"field": "top", "type": "quantitative"}, "size": {"value": 3}}},
         {"transform": [{"filter": "datum.sig"}], "mark": {"type": "text", "dy": -4}, "encoding": {"y": {"field": "top", "type": "quantitative"}, "text": {"field": "sig"}}},
         {"transform": [{"filter": "datum.lab"}], "mark": {"type": "text", "dy": -5, "fontSize": 6}, "encoding": {"y": {"field": "top", "type": "quantitative"}, "text": {"field": "lab"}}}
        ]
       },
       {
        "width": 100, "height": 71,
        "data": {"name": "s2wa"},
        "encoding": {"x": {"field": "g", "type": "nominal", "sort": ["Control","BPA"], "scale": {"paddingInner": 0.5, "paddingOuter": 0.3}, "axis": {"title": null, "ticks": false}}},
        "layer": [
         {"mark": {"type": "bar", "strokeWidth": 1.4}, "encoding": {"y": {"field": "v", "type": "quantitative", "scale": {"domain": [0,10], "range": [71,11], "nice": false}, "axis": {"values": [0,2,4,6,8,10], "title": ["% Average DNA methylation","per region"], "titleFontSize": 9}}, "fill": {"field": "g", "type": "nominal", "scale": {"domain": ["Control","BPA"], "range": ["#ffffff","#5a5a5a"]}, "legend": {"title": null, "orient": "none", "legendX": 15, "legendY": -19, "labelExpr": "'8-week ' + datum.label"}}}},
         {"mark": {"type": "rule", "strokeWidth": 1.4}, "encoding": {"y": {"field": "v", "type": "quantitative"}, "y2": {"field": "top"}}},
         {"mark": {"type": "tick", "orient": "horizontal", "thickness": 1.4}, "encoding": {"y": {"field": "top", "type": "quantitative"}, "size": {"value": 12}}},
         {"transform": [{"filter": "datum.sig"}], "mark": {"type": "text", "dy": -5, "fontSize": 8}, "encoding": {"y": {"field": "top", "type": "quantitative"}, "text": {"field": "sig"}}}
        ]
       }
      ]
     },
     {
      "resolve": {"scale": {"fill": "independent"}, "legend": {"fill": "independent"}},
      "spacing": 10,
      "hconcat": [
       {
        "width": 163, "height": 75,
        "data": {"name": "s2m"},
        "encoding": {
         "x": {"field": "site", "type": "ordinal", "scale": {"paddingInner": 0.3, "paddingOuter": 0.2}, "axis": {"title": "CpG site", "titleFontSize": 9}},
         "xOffset": {"field": "g", "type": "nominal", "sort": ["Control","BPA"], "scale": {"paddingInner": 0.08}}
        },
        "layer": [
         {"mark": "bar", "encoding": {"y": {"field": "v", "type": "quantitative", "scale": {"domain": [0,12], "nice": false}, "axis": {"values": [0,5,10], "title": "% CpG DNA Methylation"}}, "fill": {"field": "g", "type": "nominal", "scale": {"domain": ["Control","BPA"], "range": ["#b3b3b3","#4a4a4a"]}, "legend": null}}},
         {"mark": "rule", "encoding": {"y": {"field": "v", "type": "quantitative"}, "y2": {"field": "top"}}},
         {"mark": {"type": "tick", "orient": "horizontal"}, "encoding": {"y": {"field": "top", "type": "quantitative"}, "size": {"value": 3}}},
         {"transform": [{"filter": "datum.sig"}], "mark": {"type": "text", "dy": -4}, "encoding": {"y": {"field": "top", "type": "quantitative"}, "text": {"field": "sig"}}}
        ]
       },
       {
        "width": 102, "height": 75,
        "data": {"name": "s2ma"},
        "encoding": {"x": {"field": "g", "type": "nominal", "sort": ["Control","BPA"], "scale": {"paddingInner": 0.5, "paddingOuter": 0.3}, "axis": {"title": null, "ticks": false}}},
        "layer": [
         {"mark": {"type": "bar", "strokeWidth": 1.4}, "encoding": {"y": {"field": "v", "type": "quantitative", "scale": {"domain": [0,6], "range": [75,13], "nice": false}, "axis": {"values": [0,2,4,6], "title": ["% Average DNA methylation","per region"], "titleFontSize": 9}}, "fill": {"field": "g", "type": "nominal", "scale": {"domain": ["Control","BPA"], "range": ["#b3b3b3","#4a4a4a"]}, "legend": {"title": null, "orient": "none", "legendX": 13, "legendY": -5, "labelExpr": "'10-month ' + datum.label"}}}},
         {"mark": {"type": "rule", "strokeWidth": 1.4}, "encoding": {"y": {"field": "v", "type": "quantitative"}, "y2": {"field": "top"}}},
         {"mark": {"type": "tick", "orient": "horizontal", "thickness": 1.4}, "encoding": {"y": {"field": "top", "type": "quantitative"}, "size": {"value": 12}}},
         {"transform": [{"filter": "datum.sig"}], "mark": {"type": "text", "dy": -5, "fontSize": 8}, "encoding": {"y": {"field": "top", "type": "quantitative"}, "text": {"field": "sig"}}}
        ]
       }
      ]
     }
    ]
   },
   {
    "resolve": {"scale": {"fill": "independent", "shape": "independent"}, "legend": {"fill": "independent", "shape": "independent"}},
    "spacing": -1,
    "vconcat": [
     {
      "resolve": {"scale": {"fill": "independent", "shape": "independent"}, "legend": {"fill": "independent", "shape": "independent"}},
      "spacing": 4,
      "vconcat": [
       {
        "width": 340, "height": 95,
        "data": {"name": "gD"},
        "encoding": {
         "x": {"field": "x", "type": "quantitative", "scale": {"domain": [-762, 964], "nice": false, "zero": false}, "axis": null},
         "y": {"field": "lane", "type": "ordinal", "scale": {"type": "point", "domain": ["letter","f1","gene","f2","tss","plus","arrow","f3","line","primer","name","coord"], "padding": 1}, "axis": null}
        },
        "layer": [
         {"transform": [{"filter": "datum.k==='line'"}], "mark": {"type": "rule", "strokeWidth": 4.5, "color": "#000"}, "encoding": {"x2": {"field": "x2"}}},
         {"transform": [{"filter": "datum.k==='tick'"}], "mark": {"type": "tick", "orient": "vertical", "thickness": 2, "size": 15, "color": "#000"}},
         {"transform": [{"filter": "datum.k==='arr'"}], "mark": {"type": "rule", "strokeWidth": 2, "color": "#000"}, "encoding": {"x2": {"field": "x2"}}},
         {"transform": [{"filter": "datum.k==='arr'"}], "mark": {"type": "point", "filled": true, "size": 30, "color": "#000", "opacity": 1}, "encoding": {"x": {"field": "tip", "type": "quantitative"}, "shape": {"field": "dir", "type": "nominal", "scale": {"domain": ["R","L"], "range": ["triangle-right","triangle-left"]}, "legend": null}}},
         {"transform": [{"filter": "datum.k==='tssv'"}], "mark": {"type": "rule", "strokeWidth": 1.5, "color": "#000"}, "encoding": {"y2": {"field": "lane2"}}},
         {"transform": [{"filter": "datum.k==='letter'"}], "mark": {"type": "text", "fontSize": 15, "fontWeight": "bold"}, "encoding": {"text": {"field": "t"}}},
         {"transform": [{"filter": "datum.k==='gene'"}], "mark": {"type": "text", "fontSize": 17, "fontWeight": "bold"}, "encoding": {"text": {"field": "t"}}},
         {"transform": [{"filter": "datum.k==='chr'"}], "mark": {"type": "text", "fontSize": 12, "fontWeight": "bold", "align": "right", "dx": -4, "font": "Liberation Sans Narrow, Liberation Sans, sans-serif"}, "encoding": {"text": {"field": "t"}}},
         {"transform": [{"filter": "datum.k==='s'"}], "mark": {"type": "text", "fontSize": 8, "fontWeight": "normal", "color": "#222", "fill": "#222", "font": "Liberation Sans Narrow, Liberation Sans, sans-serif"}, "encoding": {"text": {"field": "t"}}}
        ]
       },
       {
        "resolve": {"scale": {"fill": "independent"}, "legend": {"fill": "independent"}},
        "spacing": 1,
        "hconcat": [
         {
          "width": 100, "height": 73,
          "data": {"name": "hAw"},
          "encoding": {
           "x": {"field": "site", "type": "ordinal", "scale": {"paddingInner": 0.3, "paddingOuter": 0.2}, "axis": {"title": "CpG site", "titleFontSize": 9}},
           "xOffset": {"field": "g", "type": "nominal", "sort": ["Control","BPA"], "scale": {"paddingInner": 0.08}}
          },
          "layer": [
           {"mark": "bar", "encoding": {"y": {"field": "v", "type": "quantitative", "scale": {"domain": [0,30], "nice": false}, "axis": {"values": [0,10,20,30], "title": "% CpG DNA Methylation"}}, "fill": {"field": "g", "type": "nominal", "scale": {"domain": ["Control","BPA"], "range": ["#ffffff","#5a5a5a"]}, "legend": null}}},
           {"mark": "rule", "encoding": {"y": {"field": "v", "type": "quantitative"}, "y2": {"field": "top"}}},
           {"mark": {"type": "tick", "orient": "horizontal"}, "encoding": {"y": {"field": "top", "type": "quantitative"}, "size": {"value": 3}}},
           {"transform": [{"filter": "datum.lab"}], "mark": {"type": "text", "dy": -5, "fontSize": 6}, "encoding": {"y": {"field": "top", "type": "quantitative"}, "text": {"field": "lab"}}},
           {"data": {"values": [{"t": "CGI-A"}]}, "mark": {"type": "text", "align": "left", "dx": -1, "dy": 1}, "encoding": {"x": {"datum": 1, "type": "ordinal"}, "xOffset": {"datum": "Control", "type": "nominal"}, "y": {"datum": 30, "type": "quantitative"}, "text": {"field": "t"}}}
          ]
         },
         {
          "width": 173, "height": 73,
          "data": {"name": "hBw"},
          "encoding": {
           "x": {"field": "site", "type": "ordinal", "scale": {"paddingInner": 0.3, "paddingOuter": 0.2}, "axis": {"title": "CpG site", "titleFontSize": 9}},
           "xOffset": {"field": "g", "type": "nominal", "sort": ["Control","BPA"], "scale": {"paddingInner": 0.08}}
          },
          "layer": [
           {"mark": "bar", "encoding": {"y": {"field": "v", "type": "quantitative", "scale": {"domain": [0,20], "range": [73,10], "nice": false}, "axis": {"values": [0,5,10,15,20], "title": "% CpG DNA Methylation"}}, "fill": {"field": "g", "type": "nominal", "scale": {"domain": ["Control","BPA"], "range": ["#ffffff","#5a5a5a"]}, "legend": {"title": null, "orient": "none", "legendX": 92, "legendY": -9, "labelExpr": "'8-week ' + datum.label"}}}},
           {"mark": "rule", "encoding": {"y": {"field": "v", "type": "quantitative"}, "y2": {"field": "top"}}},
           {"mark": {"type": "tick", "orient": "horizontal"}, "encoding": {"y": {"field": "top", "type": "quantitative"}, "size": {"value": 3}}},
           {"transform": [{"filter": "datum.sig"}], "mark": {"type": "text", "dy": -4}, "encoding": {"y": {"field": "top", "type": "quantitative"}, "text": {"field": "sig"}}},
           {"transform": [{"filter": "datum.lab"}], "mark": {"type": "text", "dy": -5, "fontSize": 6}, "encoding": {"y": {"field": "top", "type": "quantitative"}, "text": {"field": "lab"}}},
           {"data": {"values": [{"t": "CGI-B"}]}, "mark": {"type": "text", "align": "left", "dx": 0, "dy": 1}, "encoding": {"x": {"datum": 1, "type": "ordinal"}, "xOffset": {"datum": "Control", "type": "nominal"}, "y": {"datum": 20, "type": "quantitative"}, "text": {"field": "t"}}}
          ]
         }
        ]
       }
      ]
     },
     {
      "resolve": {"scale": {"fill": "independent"}, "legend": {"fill": "independent"}},
      "spacing": -12,
      "vconcat": [
       {
        "resolve": {"scale": {"fill": "independent"}, "legend": {"fill": "independent"}},
        "spacing": 3,
        "hconcat": [
         {
          "width": 90, "height": 51,
          "data": {"name": "hAwa"},
          "encoding": {"x": {"field": "g", "type": "nominal", "sort": ["Control","BPA"], "scale": {"paddingInner": 0.5, "paddingOuter": 0.3}, "axis": {"title": null, "ticks": false}}},
          "layer": [
           {"mark": {"type": "bar", "strokeWidth": 1.4}, "encoding": {"y": {"field": "v", "type": "quantitative", "scale": {"domain": [0,15], "range": [51,4], "nice": false}, "axis": {"values": [0,5,10,15], "title": ["% Average DNA methylation","per region"], "titleFontSize": 9}}, "fill": {"field": "g", "type": "nominal", "scale": {"domain": ["Control","BPA"], "range": ["#ffffff","#5a5a5a"]}, "legend": null}}},
           {"mark": {"type": "rule", "strokeWidth": 1.4}, "encoding": {"y": {"field": "v", "type": "quantitative"}, "y2": {"field": "top"}}},
           {"mark": {"type": "tick", "orient": "horizontal", "thickness": 1.4}, "encoding": {"y": {"field": "top", "type": "quantitative"}, "size": {"value": 12}}},
           {"transform": [{"filter": "datum.sig"}], "mark": {"type": "text", "dy": -5, "fontSize": 8}, "encoding": {"y": {"field": "top", "type": "quantitative"}, "text": {"field": "sig"}}},
           {"data": {"values": [{"t": "CGI-A"}]}, "mark": {"type": "text", "align": "left", "dx": -19, "dy": -9}, "encoding": {"x": {"datum": "Control", "type": "nominal"}, "y": {"datum": 15, "type": "quantitative"}, "text": {"field": "t"}}}
          ]
         },
         {
          "width": 95, "height": 51,
          "data": {"name": "hBwa"},
          "encoding": {"x": {"field": "g", "type": "nominal", "sort": ["Control","BPA"], "scale": {"paddingInner": 0.5, "paddingOuter": 0.3}, "axis": {"title": null, "ticks": false}}},
          "layer": [
           {"mark": {"type": "bar", "strokeWidth": 1.4}, "encoding": {"y": {"field": "v", "type": "quantitative", "scale": {"domain": [0,10], "nice": false}, "axis": {"values": [0,2,4,6,8,10], "title": ["% Average DNA methylation","per region"], "titleFontSize": 9}}, "fill": {"field": "g", "type": "nominal", "scale": {"domain": ["Control","BPA"], "range": ["#ffffff","#5a5a5a"]}, "legend": null}}},
           {"mark": {"type": "rule", "strokeWidth": 1.4}, "encoding": {"y": {"field": "v", "type": "quantitative"}, "y2": {"field": "top"}}},
           {"mark": {"type": "tick", "orient": "horizontal", "thickness": 1.4}, "encoding": {"y": {"field": "top", "type": "quantitative"}, "size": {"value": 12}}},
           {"transform": [{"filter": "datum.sig"}], "mark": {"type": "text", "dy": -5, "fontSize": 8}, "encoding": {"y": {"field": "top", "type": "quantitative"}, "text": {"field": "sig"}}},
           {"data": {"values": [{"t": "CGI-B"}]}, "mark": {"type": "text", "align": "left", "dx": -22, "dy": -7}, "encoding": {"x": {"datum": "Control", "type": "nominal"}, "y": {"datum": 10, "type": "quantitative"}, "text": {"field": "t"}}}
          ]
         }
        ]
       },
       {
        "resolve": {"scale": {"fill": "independent"}, "legend": {"fill": "independent"}},
        "spacing": 1,
        "vconcat": [
         {
          "resolve": {"scale": {"fill": "independent"}, "legend": {"fill": "independent"}},
          "spacing": 1,
          "hconcat": [
           {
            "width": 102, "height": 74,
            "data": {"name": "hAm"},
            "encoding": {
             "x": {"field": "site", "type": "ordinal", "scale": {"paddingInner": 0.3, "paddingOuter": 0.2}, "axis": {"title": "CpG site", "titleFontSize": 9}},
             "xOffset": {"field": "g", "type": "nominal", "sort": ["Control","BPA"], "scale": {"paddingInner": 0.08}}
            },
            "layer": [
             {"mark": "bar", "encoding": {"y": {"field": "v", "type": "quantitative", "scale": {"domain": [0,30], "nice": false}, "axis": {"values": [0,10,20,30], "title": "% CpG DNA Methylation"}}, "fill": {"field": "g", "type": "nominal", "scale": {"domain": ["Control","BPA"], "range": ["#b3b3b3","#4a4a4a"]}, "legend": null}}},
             {"mark": "rule", "encoding": {"y": {"field": "v", "type": "quantitative"}, "y2": {"field": "top"}}},
             {"mark": {"type": "tick", "orient": "horizontal"}, "encoding": {"y": {"field": "top", "type": "quantitative"}, "size": {"value": 3}}},
             {"transform": [{"filter": "datum.sig"}], "mark": {"type": "text", "dy": -4}, "encoding": {"y": {"field": "top", "type": "quantitative"}, "text": {"field": "sig"}}},
             {"data": {"values": [{"t": "CGI-A"}]}, "mark": {"type": "text", "align": "left", "dx": -1, "dy": 1}, "encoding": {"x": {"datum": 1, "type": "ordinal"}, "xOffset": {"datum": "Control", "type": "nominal"}, "y": {"datum": 30, "type": "quantitative"}, "text": {"field": "t"}}}
            ]
           },
           {
            "width": 165, "height": 74,
            "data": {"name": "hBm"},
            "encoding": {
             "x": {"field": "site", "type": "ordinal", "scale": {"paddingInner": 0.3, "paddingOuter": 0.2}, "axis": {"title": "CpG site", "titleFontSize": 9}},
             "xOffset": {"field": "g", "type": "nominal", "sort": ["Control","BPA"], "scale": {"paddingInner": 0.08}}
            },
            "layer": [
             {"mark": "bar", "encoding": {"y": {"field": "v", "type": "quantitative", "scale": {"domain": [0,30], "nice": false}, "axis": {"values": [0,10,20,30], "title": "% CpG DNA Methylation"}}, "fill": {"field": "g", "type": "nominal", "scale": {"domain": ["Control","BPA"], "range": ["#b3b3b3","#4a4a4a"]}, "legend": {"title": null, "orient": "none", "legendX": 83, "legendY": -21, "labelExpr": "'10-month ' + datum.label"}}}},
             {"mark": "rule", "encoding": {"y": {"field": "v", "type": "quantitative"}, "y2": {"field": "top"}}},
             {"mark": {"type": "tick", "orient": "horizontal"}, "encoding": {"y": {"field": "top", "type": "quantitative"}, "size": {"value": 3}}},
             {"transform": [{"filter": "datum.sig"}], "mark": {"type": "text", "dy": -4}, "encoding": {"y": {"field": "top", "type": "quantitative"}, "text": {"field": "sig"}}},
             {"data": {"values": [{"t": "CGI-B"}]}, "mark": {"type": "text", "align": "left", "dx": 1, "dy": 6}, "encoding": {"x": {"datum": 1, "type": "ordinal"}, "xOffset": {"datum": "Control", "type": "nominal"}, "y": {"datum": 30, "type": "quantitative"}, "text": {"field": "t"}}}
            ]
           }
          ]
         },
         {
          "resolve": {"scale": {"fill": "independent"}, "legend": {"fill": "independent"}},
          "spacing": 1,
          "hconcat": [
           {
            "width": 90, "height": 61,
            "data": {"name": "hAma"},
            "encoding": {"x": {"field": "g", "type": "nominal", "sort": ["Control","BPA"], "scale": {"paddingInner": 0.5, "paddingOuter": 0.3}, "axis": {"title": null, "ticks": false}}},
            "layer": [
             {"mark": {"type": "bar", "strokeWidth": 1.4}, "encoding": {"y": {"field": "v", "type": "quantitative", "scale": {"domain": [0,15], "range": [61,1], "nice": false}, "axis": {"values": [0,5,10,15], "title": ["% Average DNA methylation","per region"], "titleFontSize": 9}}, "fill": {"field": "g", "type": "nominal", "scale": {"domain": ["Control","BPA"], "range": ["#b3b3b3","#4a4a4a"]}, "legend": null}}},
             {"mark": {"type": "rule", "strokeWidth": 1.4}, "encoding": {"y": {"field": "v", "type": "quantitative"}, "y2": {"field": "top"}}},
             {"mark": {"type": "tick", "orient": "horizontal", "thickness": 1.4}, "encoding": {"y": {"field": "top", "type": "quantitative"}, "size": {"value": 12}}},
             {"transform": [{"filter": "datum.sig"}], "mark": {"type": "text", "dy": -5, "fontSize": 8}, "encoding": {"y": {"field": "top", "type": "quantitative"}, "text": {"field": "sig"}}},
             {"data": {"values": [{"t": "CGI-A"}]}, "mark": {"type": "text", "align": "left", "dx": -19, "dy": 1}, "encoding": {"x": {"datum": "Control", "type": "nominal"}, "y": {"datum": 15, "type": "quantitative"}, "text": {"field": "t"}}}
            ]
           },
           {
            "width": 97, "height": 61,
            "data": {"name": "hBma"},
            "encoding": {"x": {"field": "g", "type": "nominal", "sort": ["Control","BPA"], "scale": {"paddingInner": 0.5, "paddingOuter": 0.3}, "axis": {"title": null, "ticks": false}}},
            "layer": [
             {"mark": {"type": "bar", "strokeWidth": 1.4}, "encoding": {"y": {"field": "v", "type": "quantitative", "scale": {"domain": [0,8], "nice": false}, "axis": {"values": [0,2,4,6,8], "title": ["% Average DNA methylation","per region"], "titleFontSize": 9}}, "fill": {"field": "g", "type": "nominal", "scale": {"domain": ["Control","BPA"], "range": ["#b3b3b3","#4a4a4a"]}, "legend": null}}},
             {"mark": {"type": "rule", "strokeWidth": 1.4}, "encoding": {"y": {"field": "v", "type": "quantitative"}, "y2": {"field": "top"}}},
             {"mark": {"type": "tick", "orient": "horizontal", "thickness": 1.4}, "encoding": {"y": {"field": "top", "type": "quantitative"}, "size": {"value": 12}}},
             {"transform": [{"filter": "datum.sig"}], "mark": {"type": "text", "dy": -5, "fontSize": 8}, "encoding": {"y": {"field": "top", "type": "quantitative"}, "text": {"field": "sig"}}},
             {"data": {"values": [{"t": "CGI-B"}]}, "mark": {"type": "text", "align": "left", "dx": -20, "dy": 1}, "encoding": {"x": {"datum": "Control", "type": "nominal"}, "y": {"datum": 8, "type": "quantitative"}, "text": {"field": "t"}}}
            ]
           }
          ]
         }
        ]
       }
      ]
     }
    ]
   }
  ]
 }
]
}
